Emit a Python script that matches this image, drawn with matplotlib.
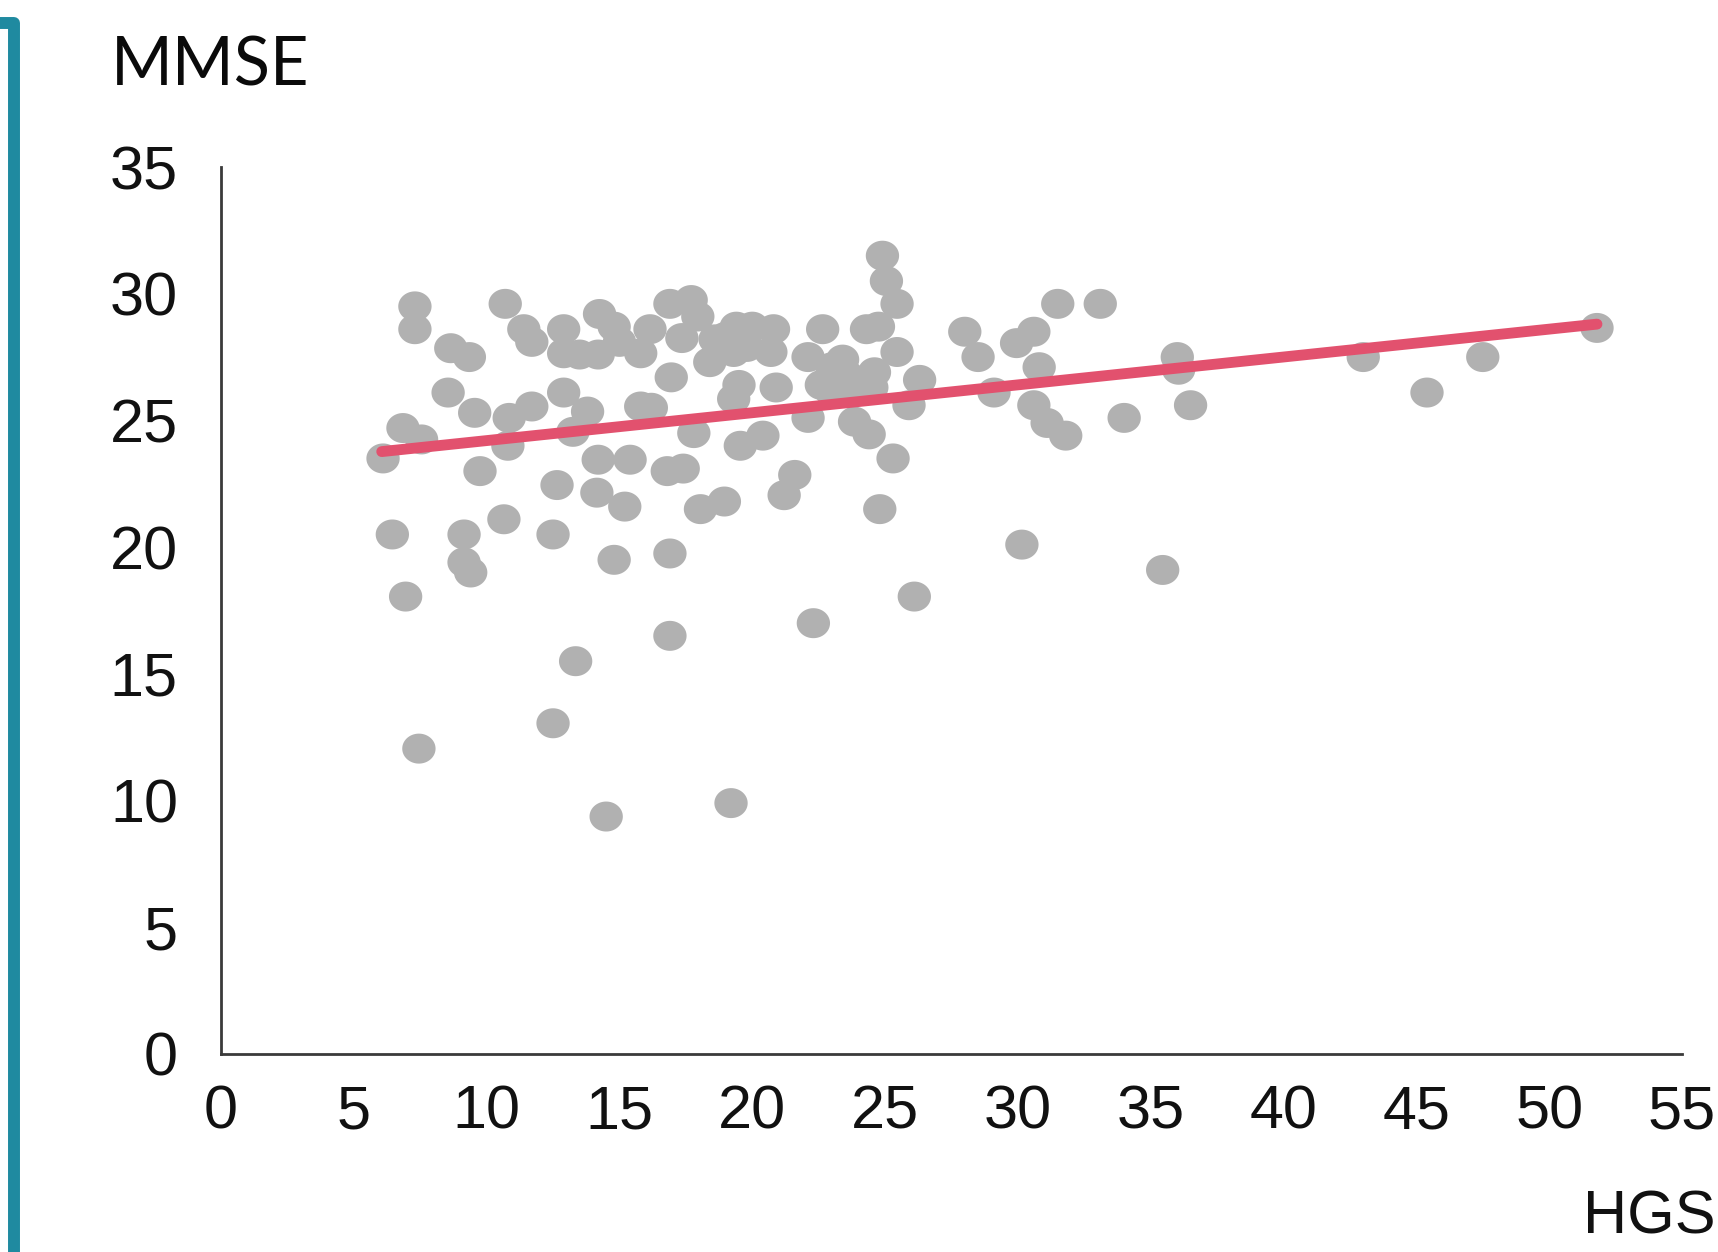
import numpy as np
import matplotlib
matplotlib.use("Agg")
import matplotlib.pyplot as plt
from matplotlib.path import Path
from matplotlib.lines import Line2D

# ---- data ----
hgs = [6.1, 6.45, 6.85, 6.95, 7.3, 7.3, 7.45, 7.55, 8.65, 8.55,
       9.35, 9.15, 9.15, 9.4, 9.55, 9.75, 10.7, 10.65, 10.85, 10.8,
       11.4, 11.7, 11.7, 12.5, 12.5, 12.65, 12.9, 12.9, 12.9, 13.25,
       13.35, 13.5, 13.8, 14.2, 14.15, 14.25, 14.2, 14.5, 14.8, 14.8,
       15.2, 15.4, 15.8, 15.8, 16.15, 16.2, 16.8, 16.9, 16.9, 16.95,
       16.9, 17.4, 17.35, 17.7, 17.8, 17.95, 18.05, 18.4, 18.6, 18.95,
       19.2, 19.5, 19.3, 19.55, 19.4, 19.3, 20.0, 20.4, 20.7, 20.8,
       20.9, 21.2, 21.6, 22.1, 22.1, 22.6, 22.3, 22.65, 23.0, 23.55,
       23.4, 23.85, 24.3, 24.4, 24.6, 24.8, 24.9, 25.05, 25.45, 24.75,
       25.45, 25.3, 26.3, 25.9, 26.1, 23.9, 28.0, 28.5, 29.1, 30.15,
       29.95, 30.6, 30.8, 30.6, 31.1, 31.5, 31.8, 33.1, 34.0, 35.45,
       36.0, 36.05, 36.5, 43.0, 45.4, 47.5, 51.8, 15.0, 19.0, 19.8,
       24.5, 23.0]
mmse = [23.5, 20.5, 24.7, 18.05, 29.5, 28.6, 12.05, 24.25, 27.85, 26.1,
        27.5, 20.5, 19.4, 19.0, 25.3, 23.0, 29.6, 21.1, 25.1, 24.0,
        28.6, 28.1, 25.55, 20.5, 13.05, 22.45, 28.6, 27.65, 26.1, 24.55,
        15.5, 27.6, 25.35, 23.45, 22.15, 29.2, 27.6, 9.37, 19.5, 28.7,
        21.6, 23.45, 25.55, 27.65, 28.6, 25.5, 23.0, 16.5, 19.75, 26.7,
        29.6, 23.1, 28.25, 29.75, 24.5, 29.1, 21.5, 27.3, 28.2, 21.8,
        9.9, 26.4, 25.85, 24.0, 28.7, 27.7, 28.7, 24.4, 27.7, 28.6,
        26.3, 22.05, 22.85, 27.5, 25.1, 26.4, 17.0, 28.6, 26.1, 26.8,
        27.4, 24.95, 28.6, 24.45, 26.9, 21.5, 31.5, 30.5, 29.6, 28.7,
        27.7, 23.5, 26.6, 25.6, 18.05, 26.2, 28.5, 27.5, 26.1, 20.1,
        28.05, 28.5, 27.1, 25.6, 24.9, 29.6, 24.4, 29.6, 25.1, 19.1,
        27.5, 27.0, 25.6, 27.5, 26.1, 27.5, 28.65, 28.1, 28.3, 27.9,
        26.3, 27.1]

trend_x = [6.05, 51.8]
trend_y = [23.77, 28.8]

x_ticks = [0, 5, 10, 15, 20, 25, 30, 35, 40, 45, 50, 55]
y_ticks = [0, 5, 10, 15, 20, 25, 30, 35]
x_label = "HGS"
y_label = "MMSE"

# ---- figure ----
W, H, DPI = 1718, 1252, 100
fig = plt.figure(figsize=(W / DPI, H / DPI), dpi=DPI)
fig.patch.set_facecolor("white")

ax = fig.add_axes([221 / W, 1 - 1054 / H, (1682 - 221) / W, (1054 - 167) / H])
ax.set_xlim(0, 55)
ax.set_ylim(0, 35)

# elliptical marker (slightly wider than tall)
t = np.linspace(0, 2 * np.pi, 64)
ell = Path(np.column_stack([np.cos(t), 0.9 * np.sin(t)]), closed=True)

ax.scatter(hgs, mmse, s=24 ** 2, marker=ell, color="#B1B1B1",
           edgecolors="none", zorder=2)
ax.plot(trend_x, trend_y, color="#E2516E", lw=7.8,
        solid_capstyle="round", zorder=3)

for side in ("top", "right"):
    ax.spines[side].set_visible(False)
for side in ("left", "bottom"):
    ax.spines[side].set_color("#3a3a3a")
    ax.spines[side].set_linewidth(2.0)

tick_font = "Liberation Sans"
ax.set_xticks(x_ticks)
ax.set_yticks(y_ticks)
ax.set_xticklabels([str(v) for v in x_ticks], fontsize=44, family=tick_font,
                   color="#111111")
ax.set_yticklabels([str(v) for v in y_ticks], fontsize=44, family=tick_font,
                   color="#111111")
ax.tick_params(axis="x", length=0, pad=22)
ax.tick_params(axis="y", length=0, pad=31)

fig.text(111 / W, 1 - 66 / H, y_label, fontsize=48, family="Lato",
         ha="left", va="center", color="#0a0a0a")
fig.text(1715 / W, 1 - 1218 / H, x_label, fontsize=44, family=tick_font,
         ha="right", va="center", color="#111111")

# teal frame edge on the left
fig.add_artist(Line2D([0, 14 / W, 14 / W], [1 - 23 / H, 1 - 23 / H, -0.02],
                      transform=fig.transFigure, color="#1F8AA0", lw=8.6,
                      solid_joinstyle="round", solid_capstyle="butt"))

fig.savefig("out.png", dpi=DPI, facecolor="white")
